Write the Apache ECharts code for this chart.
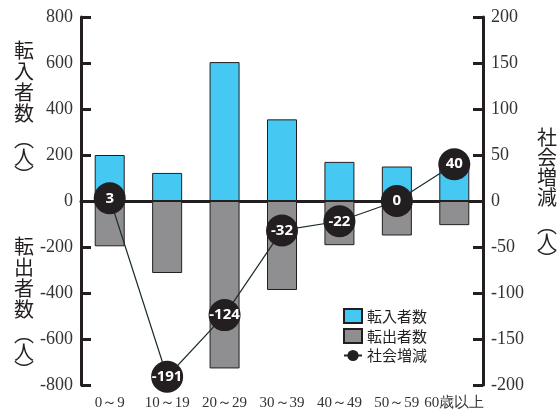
<!DOCTYPE html>
<html>
<head>
<meta charset="utf-8">
<script src="https://cdn.jsdelivr.net/npm/echarts@6/dist/echarts.min.js"></script>
<style>
  html, body { margin: 0; padding: 0; background: #fff; }
  #chart { width: 558px; height: 417px; }
</style>
</head>
<body>
<div id="chart"></div>
<script>
// age groups
var categories = ['0～9', '10～19', '20～29', '30～39', '40～49', '50～59', '60歳以上'];
// 転入者数 / 転出者数 (people), 社会増減 (people)
var moveIn  = [200, 122, 604, 355, 170, 150, 145];
var moveOut = [-197, -313, -728, -387, -192, -150, -105];
var netChange = [3, -191, -124, -32, -22, 0, 40];

var leftTicks  = { min: -800, max: 800, interval: 200 };
var rightTicks = { min: -200, max: 200, interval: 50 };

var serif = "'Liberation Serif', 'DejaVu Serif', serif";
var cjk = 'Noto Sans CJK JP';

var chart = echarts.init(document.getElementById('chart'));

var axisStyle = {
    axisLine: { show: true, lineStyle: { color: '#231f20', width: 3 } },
    axisTick: { show: true, inside: true, length: 10, lineStyle: { color: '#231f20', width: 3 } },
    axisLabel: { color: '#333', fontFamily: serif, fontSize: 18 },
    splitLine: { show: false }
};

function vText(str, x, y, lh) {
    return {
        type: 'text', left: x, top: y,
        style: { text: str.split('').join('\n'), font: '20px ' + cjk, fill: '#231f20', lineHeight: lh }
    };
}

var option = {
    backgroundColor: '#fff',
    animation: false,
    grid: { left: 81, right: 75, top: 17, bottom: 32 },
    legend: {
        orient: 'vertical',
        left: 338,
        top: 303,
        itemWidth: 18,
        itemHeight: 14,
        itemGap: 4,
        textStyle: { fontFamily: cjk, fontSize: 15, color: '#231f20' },
        data: [
            { name: '転入者数', icon: 'rect' },
            { name: '転出者数', icon: 'rect' },
            { name: '社会増減' }
        ]
    },
    xAxis: {
        type: 'category',
        data: categories,
        axisLine: { show: true, onZero: true, lineStyle: { color: '#231f20', width: 3 } },
        axisTick: { show: false },
        axisLabel: {
            color: '#333', fontFamily: serif, fontSize: 15, interval: 0,
            margin: 11
        },
        position: 'bottom'
    },
    yAxis: [
        Object.assign({ type: 'value', position: 'left' }, leftTicks, axisStyle),
        Object.assign({ type: 'value', position: 'right' }, rightTicks, axisStyle)
    ],
    series: [
        {
            name: '転入者数',
            type: 'bar',
            data: moveIn,
            barWidth: 30,
            barGap: '-100%',
            itemStyle: { color: '#45c8f2', borderColor: '#231f20', borderWidth: 1 }
        },
        {
            name: '転出者数',
            type: 'bar',
            data: moveOut,
            barWidth: 30,
            itemStyle: { color: '#8f8f91', borderColor: '#231f20', borderWidth: 1 }
        },
        {
            name: '社会増減',
            type: 'line',
            yAxisIndex: 1,
            data: netChange,
            z: 5,
            symbol: 'circle',
            symbolSize: 32,
            lineStyle: { color: '#1d2b2b', width: 1.2 },
            itemStyle: { color: '#231f20' },
            label: {
                show: true,
                position: 'inside',
                color: '#fff',
                fontFamily: 'Open Sans',
                fontWeight: 'bold',
                fontSize: 15
            }
        }
    ],
    graphic: [
        vText('転入者数', 14, 40, 21),
        vText('︵人︶', 14, 129, 18),
        vText('転出者数', 14, 236, 21),
        vText('︵人︶', 14, 324, 18),
        vText('社会増減', 537, 127, 20),
        vText('︵人︶', 537, 215, 17)
    ]
};

chart.setOption(option);
</script>
</body>
</html>
